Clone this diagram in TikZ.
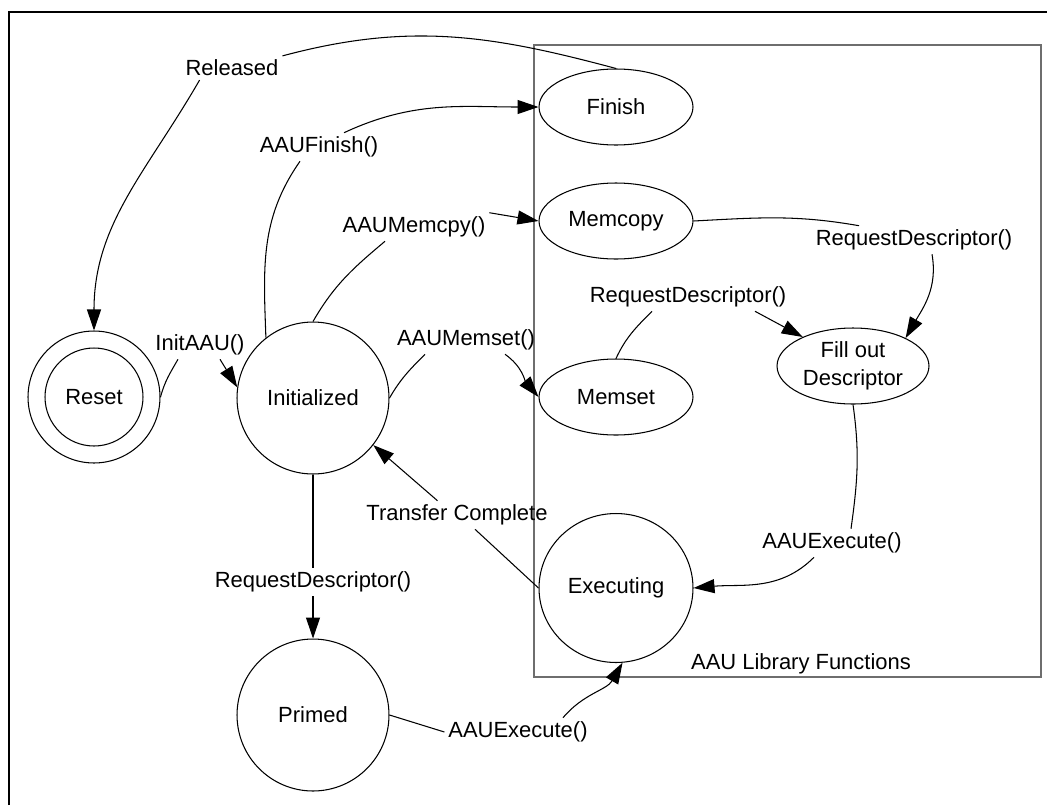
\documentclass[tikz,border=0pt]{standalone}
\usepackage{fontspec}
\setmainfont{Liberation Sans}
\usetikzlibrary{arrows.meta, shapes.geometric}
\definecolor{boxgray}{HTML}{6E6E6E}

\begin{document}
\begin{tikzpicture}[
    x=0.02cm, y=-0.02cm,
    >={Triangle[length=0.42cm, width=0.28cm]},
    line width=0.6pt,
    font=\fontsize{12.5}{16}\selectfont,
    state/.style={draw, circle, minimum size=3.04cm, inner sep=0pt},
    func/.style={draw, ellipse, minimum width=3.08cm, minimum height=1.52cm, inner sep=0pt},
    trans/.style={inner sep=2pt}
]
\useasboundingbox (0,0) rectangle (1047,805);

% frame and library box
\draw[line width=1.7pt] (9,805) -- (9,12) -- (1047,12);
\draw[boxgray, line width=0.9pt] (534,45) rectangle (1041,677);
\node (lib) at (801,664) {AAU Library Functions};

% states
\node[state, minimum size=2.64cm] (reset) at (94,397) {};
\node[state, minimum size=1.96cm] (resetin) at (94,397) {Reset};
\node[state] (init) at (313,398) {Initialized};
\node[state] (primed) at (313,715) {Primed};

% library functions
\node[func] (finish) at (616,107) {Finish};
\node[func] (memcopy) at (616,221) {Memcopy};
\node[func] (memset) at (616,397) {Memset};
\node[func, minimum width=3.04cm, align=center] (fill) at (853,366) {Fill out\\Descriptor};
\node[func, minimum height=2.98cm] (exec) at (616,588) {Executing};

% labels
\node[trans] (rel) at (232,68) {Released};
\node[trans] (finlbl) at (319,147) {AAUFinish()};
\node[trans] (cpylbl) at (414,227) {AAUMemcpy()};
\node[trans] (rdcpy) at (914,240) {RequestDescriptor()};
\node[trans] (rdset) at (688,297) {RequestDescriptor()};
\node[trans] (initlbl) at (200,345) {InitAAU()};
\node[trans] (setlbl) at (466,340) {AAUMemset()};
\node[trans] (xfer) at (457,515) {Transfer Complete};
\node[trans] (exfill) at (832,543) {AAUExecute()};
\node[trans] (rdprim) at (313,582) {RequestDescriptor()};
\node[trans] (exprim) at (518,732) {AAUExecute()};

% transitions
\draw (finish.north) to[out=165, in=15] (rel.north east);
\draw[->] ([xshift=0.36cm]rel.south west) to[out=240, in=90] (reset.north);

\draw (init.128) to[out=92, in=235] ([xshift=-0.38cm]finlbl.south);
\draw[->] ([xshift=0.5cm]finlbl.north) to[out=25, in=180] (finish.west);

\draw (init.north) to[out=60, in=220] ([xshift=-0.58cm]cpylbl.south);
\draw[->] (cpylbl.north east) -- (memcopy.west);

\draw (memcopy.east) to[out=3, in=170] ([xshift=-1.1cm]rdcpy.north);
\draw[->] ([xshift=0.36cm]rdcpy.south) to[out=-80, in=60] (fill.28);

\draw (memset.north) to[out=65, in=225] ([xshift=-0.72cm]rdset.south);
\draw[->] ([xshift=1.34cm]rdset.south) -- (fill.150);

\draw (reset.east) to[out=75, in=240] ([xshift=-0.44cm]initlbl.south);
\draw[->] ([xshift=0.4cm]initlbl.south) -- (init.172);

\draw (init.east) to[out=60, in=225] ([xshift=-0.82cm]setlbl.south);
\draw[->] ([xshift=0.78cm]setlbl.south) to[out=-35, in=130] (memset.west);

\draw (exec.west) -- ([xshift=0.36cm]xfer.south);
\draw[->] ([xshift=-0.39cm]xfer.north) -- (init.-38);

\draw (fill.south) to[out=-82, in=82] ([xshift=0.38cm]exfill.north);
\draw[->] ([xshift=-0.36cm]exfill.south) to[out=-135, in=5] (exec.east);

\draw (init.south) -- (rdprim.north);
\draw[->] (rdprim.south) -- (primed.north);

\draw (primed.east) -- (exprim.west);
\draw[->] ([xshift=0.9cm]exprim.north) to[out=50, in=240] (exec.-85);

\end{tikzpicture}
\end{document}
